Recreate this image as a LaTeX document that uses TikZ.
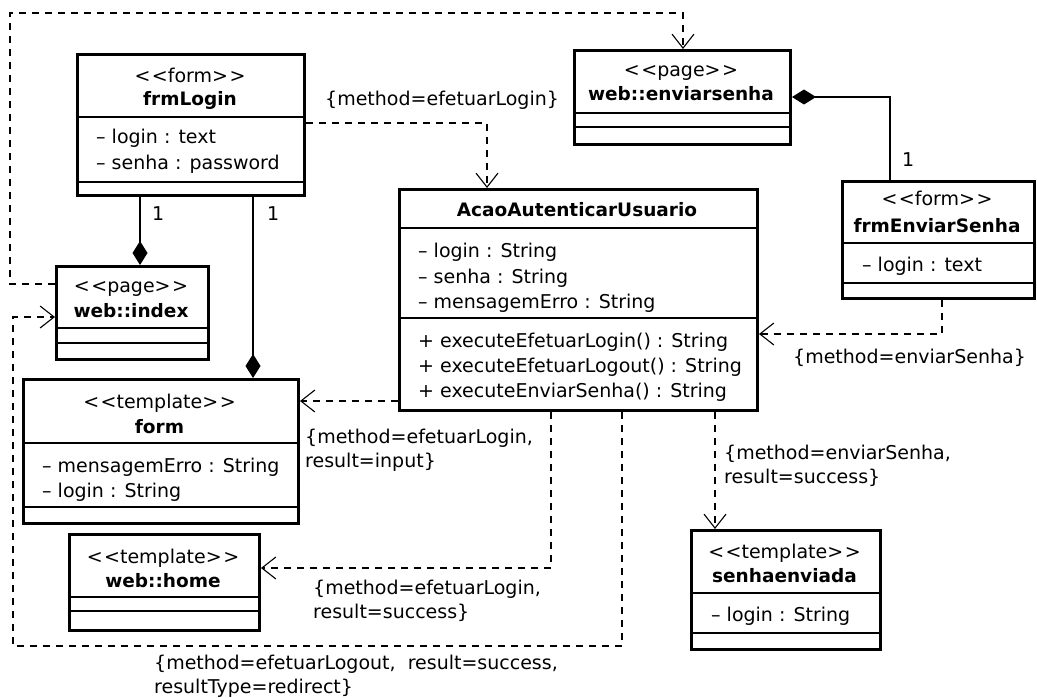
\documentclass[tikz,border=0pt]{standalone}
\usepackage{fontspec}
\setmainfont{DejaVu Sans}
\usetikzlibrary{arrows.meta}
\newcommand\ster[1]{<\kern1.5pt<#1>\kern1.5pt>}
\newcommand\ttl[1]{{\fontsize{18.5}{24.5}\selectfont\bfseries #1}}
\begin{document}
\begin{tikzpicture}[x=1pt,y=-1pt,
  every node/.style={font=\fontsize{19}{24.5}\selectfont},
  cls/.style={draw, line width=3pt, rectangle, anchor=north west, inner sep=0pt},
  div/.style={line width=1.2pt},
  dep/.style={line width=1.1pt, dash pattern=on 7pt off 6pt, -{Straight Barb[length=14pt,width=22pt,line width=1.1pt]}},
  comp/.style={line width=1.3pt, {Diamond[length=24pt,width=15pt]}-},
  txt/.style={inner sep=0pt, anchor=base},
  attr/.style={inner sep=0pt, anchor=base west},
  lbl/.style={inner sep=0pt, anchor=base west, align=left, font=\fontsize{19}{23.5}\selectfont}]
\useasboundingbox (0,0) rectangle (1037,698);
% classes
\node[cls, minimum width=227pt, minimum height=141pt] (frmLogin) at (76,53) {};
\node[cls, minimum width=216pt, minimum height=94pt] (ens) at (573,49) {};
\node[cls, minimum width=192pt, minimum height=117pt] (fes) at (841,180) {};
\node[cls, minimum width=358pt, minimum height=221pt] (acao) at (398,188) {};
\node[cls, minimum width=152pt, minimum height=93pt] (idx) at (55,265) {};
\node[cls, minimum width=275pt, minimum height=144pt] (form) at (22,378) {};
\node[cls, minimum width=190pt, minimum height=96pt] (home) at (68,533) {};
\node[cls, minimum width=189pt, minimum height=119pt] (senha) at (690,529) {};
% dividers
\draw[div] (frmLogin.west |- 0,117) -- (frmLogin.east |- 0,117);
\draw[div] (frmLogin.west |- 0,182) -- (frmLogin.east |- 0,182);
\draw[div] (ens.west |- 0,113) -- (ens.east |- 0,113);
\draw[div] (ens.west |- 0,127) -- (ens.east |- 0,127);
\draw[div] (fes.west |- 0,243) -- (fes.east |- 0,243);
\draw[div] (fes.west |- 0,283) -- (fes.east |- 0,283);
\draw[div] (acao.west |- 0,228) -- (acao.east |- 0,228);
\draw[div] (acao.west |- 0,318) -- (acao.east |- 0,318);
\draw[div] (idx.west |- 0,328) -- (idx.east |- 0,328);
\draw[div] (idx.west |- 0,343) -- (idx.east |- 0,343);
\draw[div] (form.west |- 0,443) -- (form.east |- 0,443);
\draw[div] (form.west |- 0,507) -- (form.east |- 0,507);
\draw[div] (home.west |- 0,597) -- (home.east |- 0,597);
\draw[div] (home.west |- 0,611) -- (home.east |- 0,611);
\draw[div] (senha.west |- 0,593) -- (senha.east |- 0,593);
\draw[div] (senha.west |- 0,633) -- (senha.east |- 0,633);
% texts
\node[txt] (t1a) at (190,83) {\ster{form}};
\node[txt] (t1b) at (190,106) {\ttl{frmLogin}};
\node[attr] (t1c) at (96,144) {– login : text};
\node[attr] (t1d) at (96,170) {– senha : password};
\node[txt] (t2a) at (681,77) {\ster{page}};
\node[txt] (t2b) at (681,101) {\ttl{web::enviarsenha}};
\node[txt] (t3a) at (937,206) {\ster{form}};
\node[txt] (t3b) at (937,233) {\ttl{frmEnviarSenha}};
\node[attr] (t3c) at (862,271) {– login : text};
\node[txt] (t4a) at (577,217) {\ttl{AcaoAutenticarUsuario}};
\node[attr] (t4b) at (418,257) {– login : String};
\node[attr] (t4c) at (418,283) {– senha : String};
\node[attr] (t4d) at (418,308) {– mensagemErro : String};
\node[attr] (t4e) at (418,347) {+ executeEfetuarLogin() : String};
\node[attr] (t4f) at (418,372) {+ executeEfetuarLogout() : String};
\node[attr] (t4g) at (418,397) {+ executeEnviarSenha() : String};
\node[txt] (t5a) at (131,292) {\ster{page}};
\node[txt] (t5b) at (131,317) {\ttl{web::index}};
\node[txt] (t6a) at (159.5,408) {\ster{template}};
\node[txt] (t6b) at (159.5,433) {\ttl{form}};
\node[attr] (t6c) at (42,472) {– mensagemErro : String};
\node[attr] (t6d) at (42,497) {– login : String};
\node[txt] (t7a) at (163,563) {\ster{template}};
\node[txt] (t7b) at (163,587) {\ttl{web::home}};
\node[txt] (t8a) at (784.5,558) {\ster{template}};
\node[txt] (t8b) at (784.5,582) {\ttl{senhaenviada}};
\node[attr] (t8c) at (711,621) {– login : String};
% connectors
\coordinate (lt) at (10,13);
\coordinate (lb) at (13,646);
\draw[dep] (frmLogin.east |- 0,123) -| (acao.north -| 487,0);
\draw[dep] (idx.west |- 0,284) -| (lt) -| (ens.north -| 683,0);
\draw[dep] (acao.west |- 0,401) -- (form.east |- 0,401);
\draw[dep] (acao.south -| 551,0) |- (home.east |- 0,568);
\draw[dep] (acao.south -| 622,0) |- (lb) |- (idx.west |- 0,317);
\draw[dep] (acao.south -| 715,0) -- (senha.north -| 715,0);
\draw[dep] (fes.south -| 942,0) |- (acao.east |- 0,334);
\draw[comp] (idx.north -| 140,0) -- (frmLogin.south -| 140,0);
\draw[comp] (form.north -| 253,0) -- (frmLogin.south -| 253,0);
\draw[comp] (ens.east |- 0,97) -| (fes.north -| 890,0);
% labels
\node[attr] (m1) at (152,221) {1};
\node[attr] (m2) at (267,221) {1};
\node[attr] (m3) at (902,167) {1};
\node[lbl] (l1) at (325,106) {\{method=efetuarLogin\}};
\node[lbl] (l2) at (793,363) {\{method=enviarSenha\}};
\node[lbl] (l3) at (305,467) {\{method=efetuarLogin,\\result=input\}};
\node[lbl] (l4) at (313,618) {\{method=efetuarLogin,\\result=success\}};
\node[lbl] (l5) at (154,693) {\{method=efetuarLogout,\ \ result=success,\\resultType=redirect\}};
\node[lbl] (l6) at (724,483) {\{method=enviarSenha,\\result=success\}};
\end{tikzpicture}
\end{document}
